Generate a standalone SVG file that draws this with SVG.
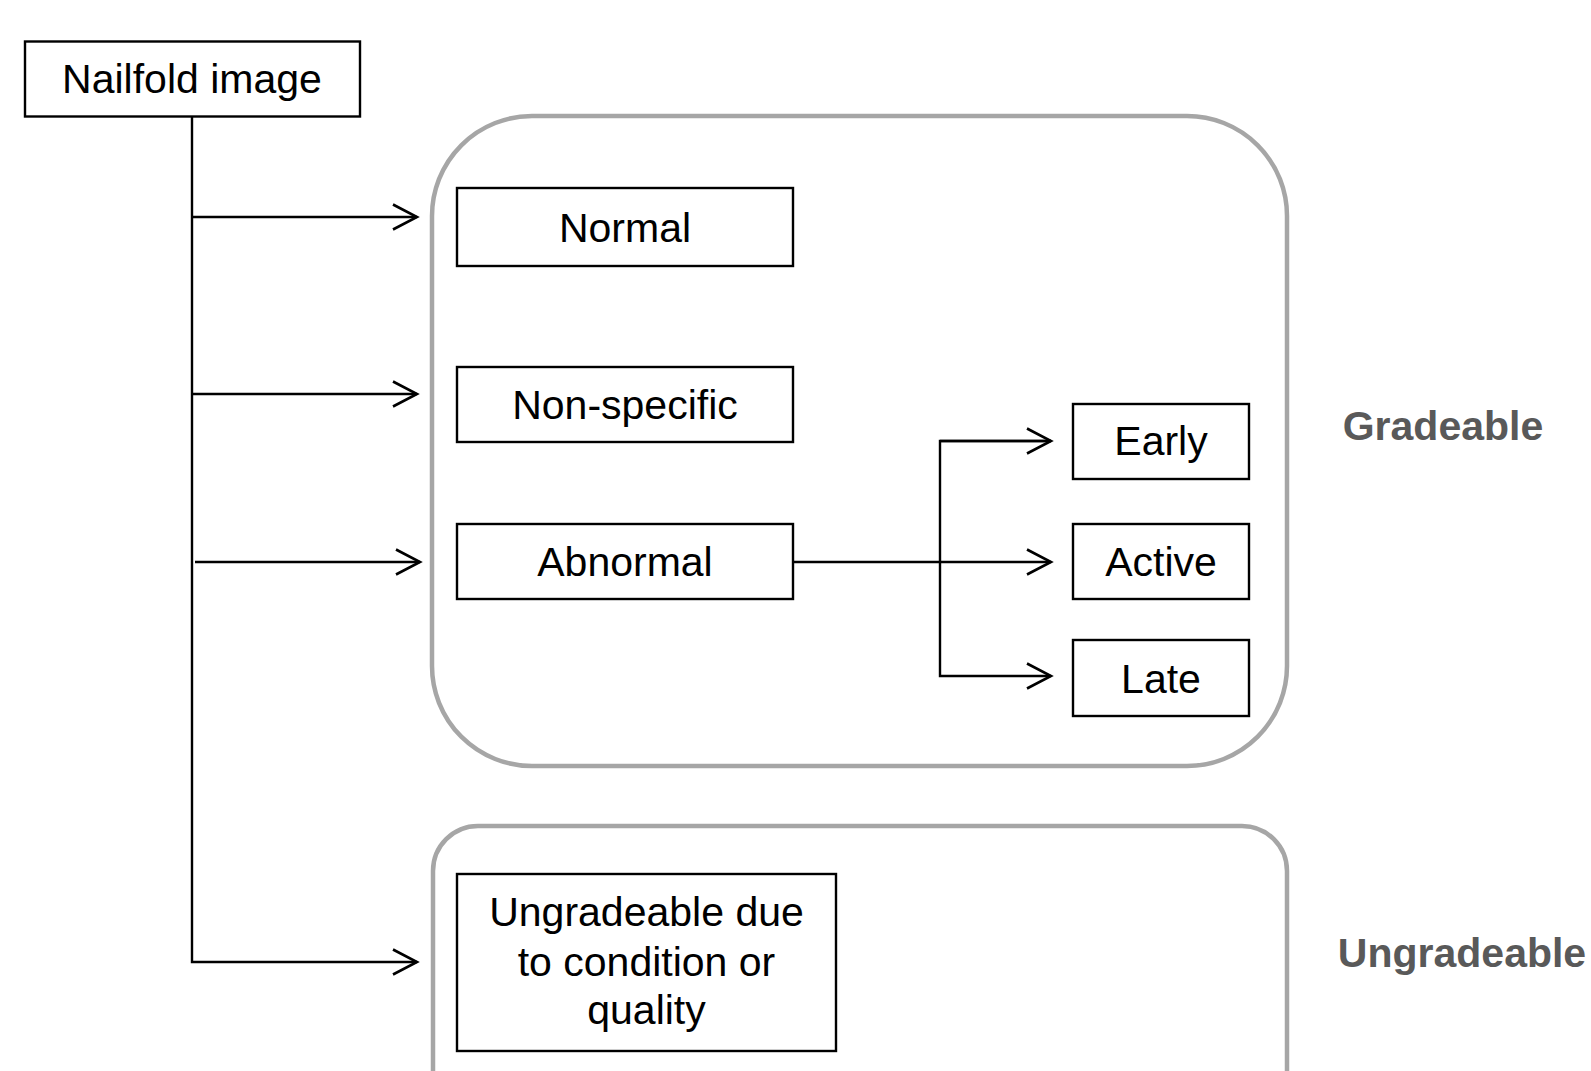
<svg xmlns="http://www.w3.org/2000/svg" width="1591" height="1071" viewBox="0 0 1591 1071">
<defs>
<style>
.box{fill:#fff;stroke:#000;stroke-width:2.4}
.grp{fill:none;stroke:#a6a6a6;stroke-width:4.5}
.lbl{font-family:"Liberation Sans",Arial,sans-serif;font-size:41px;fill:#000;text-anchor:middle}
.side{font-family:"Liberation Sans",Arial,sans-serif;font-size:41px;font-weight:bold;fill:#595959;text-anchor:middle}
.ln{fill:none;stroke:#000;stroke-width:2.4}
</style>
<marker id="arr" viewBox="0 0 30 30" refX="27" refY="15" markerWidth="30" markerHeight="30" markerUnits="userSpaceOnUse" orient="auto">
<path d="M3,2.5 L27,15 L3,27.5" fill="none" stroke="#000" stroke-width="2.6"/>
</marker>
</defs>
<rect width="1591" height="1071" fill="#fff"/>

<g id="group-gradeable">
<rect class="grp" x="432" y="116" width="855" height="650" rx="100" ry="100"/>
<text class="side" x="1443" y="440">Gradeable</text>
</g>
<g id="group-ungradeable">
<rect class="grp" x="433" y="826" width="854" height="300" rx="45" ry="45"/>
<text class="side" x="1462" y="967">Ungradeable</text>
</g>

<g id="connectors">
<path class="ln" d="M192,117 V962 H417" marker-end="url(#arr)"/>
<path class="ln" d="M192,217 H417" marker-end="url(#arr)"/>
<path class="ln" d="M192,394 H417" marker-end="url(#arr)"/>
<path class="ln" d="M195,562 H420" marker-end="url(#arr)"/>
<path class="ln" d="M793,562 H1051" marker-end="url(#arr)"/>
<path class="ln" d="M1051,441 H940 V676 H1051" marker-end="url(#arr)"/>
<path class="ln" d="M940,441 H1051" marker-end="url(#arr)"/>
</g>

<g id="node-nailfold">
<rect class="box" x="25" y="41.5" width="335" height="75"/>
<text class="lbl" x="192" y="93">Nailfold image</text>
</g>
<g id="node-normal">
<rect class="box" x="457" y="188" width="336" height="78"/>
<text class="lbl" x="625" y="242">Normal</text>
</g>
<g id="node-nonspecific">
<rect class="box" x="457" y="367" width="336" height="75"/>
<text class="lbl" x="625" y="419">Non-specific</text>
</g>
<g id="node-abnormal">
<rect class="box" x="457" y="524" width="336" height="75"/>
<text class="lbl" x="625" y="576">Abnormal</text>
</g>
<g id="node-early">
<rect class="box" x="1073" y="404" width="176" height="75"/>
<text class="lbl" x="1161" y="455">Early</text>
</g>
<g id="node-active">
<rect class="box" x="1073" y="524" width="176" height="75"/>
<text class="lbl" x="1161" y="576">Active</text>
</g>
<g id="node-late">
<rect class="box" x="1073" y="640" width="176" height="76"/>
<text class="lbl" x="1161" y="693">Late</text>
</g>
<g id="node-ungradeable">
<rect class="box" x="457" y="874" width="379" height="177"/>
<text class="lbl" x="646.5" y="926">Ungradeable due</text>
<text class="lbl" x="646.5" y="976">to condition or</text>
<text class="lbl" x="646.5" y="1024">quality</text>
</g>
</svg>
